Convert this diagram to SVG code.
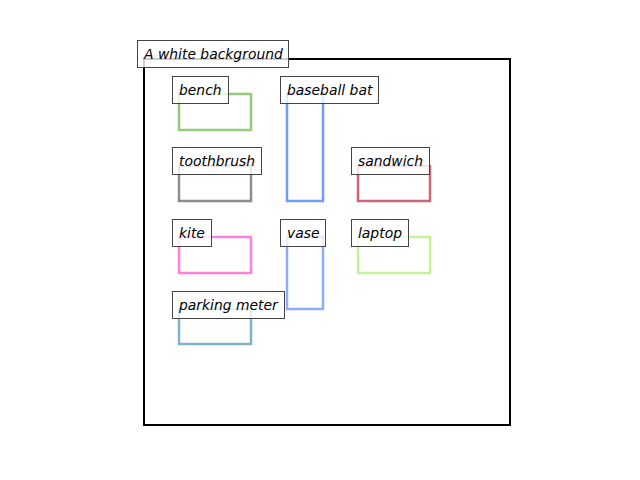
<svg xmlns="http://www.w3.org/2000/svg" width="640" height="480" viewBox="0 0 640 480">
<style>
.obj{fill:none;stroke-width:2.5}
.lb rect{fill:#fff;fill-opacity:0.8;stroke:#444;stroke-width:1}
.lb text{font-family:"DejaVu Sans",sans-serif;font-style:oblique;font-size:13.9px;fill:#000}
</style>
<rect width="640" height="480" fill="#fff"/>
<g id="frame"><rect x="144" y="59" width="366" height="366" fill="none" stroke="#000" stroke-width="2"/></g>
<g id="objects">
<rect id="bench-box" class="obj" x="179" y="94" width="72" height="36" stroke="#93c97a"/>
<rect id="bat-box" class="obj" x="287" y="94" width="36" height="107" stroke="#709dfa"/>
<rect id="toothbrush-box" class="obj" x="179" y="166" width="72" height="35" stroke="#8a9088"/>
<rect id="sandwich-box" class="obj" x="358" y="166" width="72" height="35" stroke="#cc6677"/>
<rect id="kite-box" class="obj" x="179" y="237" width="72" height="36" stroke="#ff80d8"/>
<rect id="vase-box" class="obj" x="287" y="237" width="36" height="72" stroke="#8aaefc"/>
<rect id="laptop-box" class="obj" x="358" y="237" width="72" height="36" stroke="#c2f29a"/>
<rect id="meter-box" class="obj" x="179" y="309" width="72" height="35" stroke="#7fb3c9"/>
</g>
<g id="bg-label" class="lb"><rect x="137.5" y="40.5" width="151" height="27"/><text x="144" y="59">A white background</text></g>
<g id="bench" class="lb"><rect x="172.5" y="76.5" width="56" height="27"/><text x="179" y="95">bench</text></g>
<g id="baseball-bat" class="lb"><rect x="280.5" y="76.5" width="98" height="27"/><text x="287" y="95">baseball bat</text></g>
<g id="toothbrush" class="lb"><rect x="172.5" y="147.5" width="89" height="27"/><text x="179" y="166">toothbrush</text></g>
<g id="sandwich" class="lb"><rect x="351.5" y="147.5" width="78" height="27"/><text x="358" y="166">sandwich</text></g>
<g id="kite" class="lb"><rect x="172.5" y="219.5" width="39" height="27"/><text x="179" y="238">kite</text></g>
<g id="vase" class="lb"><rect x="280.5" y="219.5" width="45" height="27"/><text x="287" y="238">vase</text></g>
<g id="laptop" class="lb"><rect x="351.5" y="219.5" width="57" height="27"/><text x="358" y="238">laptop</text></g>
<g id="parking-meter" class="lb"><rect x="172.5" y="291.5" width="112" height="27"/><text x="179" y="310">parking meter</text></g>
</svg>
